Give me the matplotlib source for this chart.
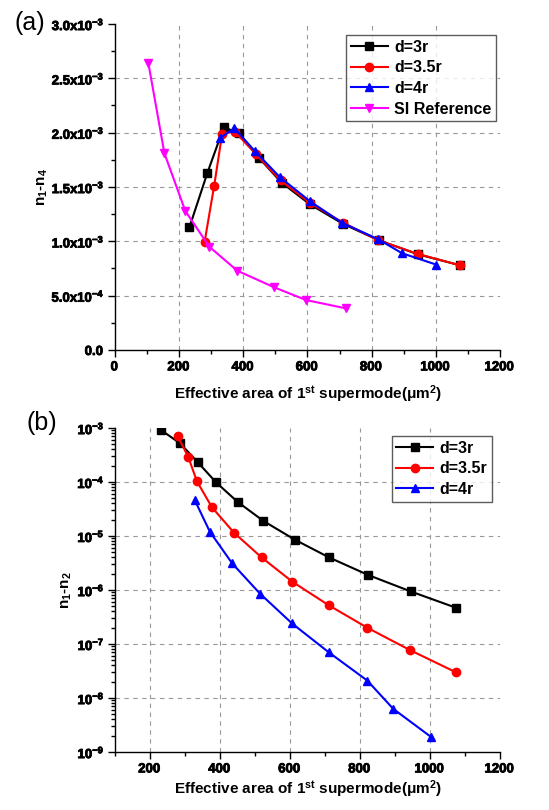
import matplotlib
matplotlib.use("Agg")
import matplotlib.pyplot as plt
import matplotlib.patheffects as pe
from matplotlib.ticker import MultipleLocator, FuncFormatter, LogLocator, NullFormatter
import numpy as np

plt.rcParams['font.family'] = ['Liberation Sans', 'DejaVu Sans']
plt.rcParams['font.weight'] = 'bold'
plt.rcParams['mathtext.fontset'] = 'custom'
plt.rcParams['mathtext.rm'] = 'Liberation Sans:bold'
plt.rcParams['mathtext.bf'] = 'Liberation Sans:bold'
plt.rcParams['mathtext.it'] = 'Liberation Sans:bold'
plt.rcParams['mathtext.sf'] = 'Liberation Sans:bold'
plt.rcParams['mathtext.default'] = 'rm'

# ---- panel (a) data: n1-n4 vs effective area ----
a_x_3r = [232, 288, 339, 386, 448, 519, 608, 711, 822, 945, 1075]
a_y_3r = [1.13e-3, 1.63e-3, 2.05e-3, 1.995e-3, 1.77e-3, 1.54e-3, 1.34e-3, 1.16e-3, 1.01e-3, 0.88e-3, 0.78e-3]
a_x_35r = [279, 309, 334, 373, 440, 516, 609, 712, 820, 943, 1074]
a_y_35r = [0.99e-3, 1.51e-3, 1.99e-3, 2.01e-3, 1.80e-3, 1.56e-3, 1.35e-3, 1.17e-3, 1.01e-3, 0.885e-3, 0.78e-3]
a_x_4r = [327, 372, 436, 514, 607, 708, 820, 895, 1002]
a_y_4r = [1.95e-3, 2.04e-3, 1.83e-3, 1.59e-3, 1.37e-3, 1.17e-3, 1.02e-3, 0.89e-3, 0.785e-3]
a_x_si = [104, 154, 219, 294, 381, 496, 595, 720]
a_y_si = [2.64e-3, 1.81e-3, 1.28e-3, 0.95e-3, 0.73e-3, 0.577e-3, 0.46e-3, 0.383e-3]

# ---- panel (b) data: n1-n2 vs effective area ----
b_x_3r = [231, 286, 337, 389, 450, 524, 613, 712, 823, 945, 1074]
b_y_3r = [9.2e-4, 5.2e-4, 2.3e-4, 9.8e-5, 4.3e-5, 1.9e-5, 8.6e-6, 4.0e-6, 1.9e-6, 9.4e-7, 4.7e-7]
b_x_35r = [279, 309, 334, 377, 440, 519, 607, 711, 821, 943, 1074]
b_y_35r = [7.0e-4, 2.95e-4, 1.03e-4, 3.4e-5, 1.15e-5, 4.0e-6, 1.42e-6, 5.2e-7, 2.0e-7, 7.7e-8, 3.0e-8]
b_x_4r = [328, 371, 435, 514, 606, 711, 821, 895, 1003]
b_y_4r = [4.6e-5, 1.2e-5, 3.1e-6, 8.6e-7, 2.4e-7, 7.0e-8, 2.1e-8, 6.3e-9, 1.9e-9]

labels = ['d=3r', 'd=3.5r', 'd=4r', 'SI Reference']
colors = ['black', 'red', 'blue', 'magenta']
markers = ['s', 'o', '^', 'v']

fig = plt.figure(figsize=(5.49, 8.10), dpi=100)
axA = fig.add_axes([0.2095, 0.5679, 0.7012, 0.4025])
axB = fig.add_axes([0.2095, 0.0716, 0.7012, 0.4000])

TICK_FS = 9.5

def in_range(v, lim):
    lo, hi = min(lim), max(lim)
    return lo - 1e-9 * abs(hi - lo) <= v <= hi + 1e-9 * abs(hi - lo)

def style_axes(ax):
    for s in ['top', 'right']:
        ax.spines[s].set_visible(False)
    for s in ['left', 'bottom']:
        ax.spines[s].set_linewidth(1.0)
    ax.tick_params(which='major', direction='out', length=5, width=1, labelsize=TICK_FS, pad=2.5)
    ax.tick_params(which='minor', direction='out', length=3, width=1)
    ax.xaxis.set_major_formatter(FuncFormatter(
        lambda v, p: (r'$\mathregular{%d}$' % int(round(v))) if in_range(v, ax.get_xlim()) else ''))

lw = 1.5
ms = 6

# panel a
for xs, ys, c, m, l in zip([a_x_3r, a_x_35r, a_x_4r, a_x_si],
                           [a_y_3r, a_y_35r, a_y_4r, a_y_si], colors, markers, labels):
    axA.plot(xs, ys, color=c, marker=m, markersize=ms, linewidth=lw, label=l)
axA.set_xlim(0, 1200)
axA.set_ylim(0, 3.0e-3)
axA.xaxis.set_major_locator(MultipleLocator(200))
axA.xaxis.set_minor_locator(MultipleLocator(100))
axA.yaxis.set_major_locator(MultipleLocator(0.5e-3))
axA.yaxis.set_minor_locator(MultipleLocator(0.25e-3))

def fmt_a(v, pos):
    if not in_range(v, axA.get_ylim()):
        return ''
    if abs(v) < 1e-12:
        return r'$\mathregular{0.0}$'
    m = v / 1e-3
    if m >= 1 - 1e-9:
        return r'$\mathregular{%.1fx10^{-3}}$' % m
    return r'$\mathregular{%.1fx10^{-4}}$' % (v / 1e-4)
axA.yaxis.set_major_formatter(FuncFormatter(fmt_a))
axA.grid(True, which='major', linestyle=(0, (4, 4)), color='#999999', linewidth=0.8)
style_axes(axA)
axA.set_xlabel('Effective area of 1$^{st}$ supermode(μm$^{2}$)', fontsize=11, fontweight='bold', labelpad=7)
axA.set_ylabel('n$_{1}$-n$_{4}$', fontsize=11, fontweight='bold', labelpad=1)

leg_kw = dict(loc='upper right', bbox_transform=fig.transFigure, fontsize=11.5, frameon=True,
              fancybox=False, handlelength=2.3, borderpad=0.3, labelspacing=0.35,
              handletextpad=0.4, borderaxespad=0)
legA = axA.legend(bbox_to_anchor=(496 / 549, 1 - 35 / 810), **leg_kw)

# panel b
for xs, ys, c, m, l in zip([b_x_3r, b_x_35r, b_x_4r],
                           [b_y_3r, b_y_35r, b_y_4r], colors[:3], markers[:3], labels[:3]):
    axB.plot(xs, ys, color=c, marker=m, markersize=ms, linewidth=lw, label=l)
axB.set_yscale('log')
axB.set_xlim(100, 1200)
axB.set_ylim(1e-9, 1e-3)
axB.xaxis.set_major_locator(MultipleLocator(200))
axB.xaxis.set_minor_locator(MultipleLocator(100))
axB.yaxis.set_major_locator(LogLocator(base=10, numticks=20))
axB.yaxis.set_minor_locator(LogLocator(base=10, subs=np.arange(2, 10), numticks=20))
axB.yaxis.set_minor_formatter(NullFormatter())

def fmt_b(v, pos):
    lo, hi = axB.get_ylim()
    if v < lo * (1 - 1e-6) or v > hi * (1 + 1e-6):
        return ''
    return r'$\mathregular{10^{%d}}$' % int(round(np.log10(v)))
axB.yaxis.set_major_formatter(FuncFormatter(fmt_b))
axB.grid(True, which='major', linestyle=(0, (4, 4)), color='#999999', linewidth=0.8)
style_axes(axB)
axB.set_xlabel('Effective area of 1$^{st}$ supermode(μm$^{2}$)', fontsize=11, fontweight='bold', labelpad=2)
axB.set_ylabel('n$_{1}$-n$_{2}$', fontsize=11, fontweight='bold', labelpad=2)
legB = axB.legend(bbox_to_anchor=(492 / 549, 1 - 436 / 810), **leg_kw)

for leg in (legA, legB):
    leg.get_frame().set_edgecolor('#333333')
    leg.get_frame().set_linewidth(1.0)
    for t in leg.get_texts():
        t.set_fontweight('bold')

# hide grid lines that fall on the axes limits; thicken tick label strokes slightly
fig.canvas.draw()
heavy = [pe.withStroke(linewidth=0.6, foreground='black')]
for ax in (axA, axB):
    xl = ax.get_xlim()
    for tk in ax.xaxis.get_major_ticks():
        if np.isclose(tk.get_loc(), xl[0]) or np.isclose(tk.get_loc(), xl[1]):
            tk.gridline.set_visible(False)
    yl = ax.get_ylim()
    for tk in ax.yaxis.get_major_ticks():
        loc = tk.get_loc()
        if np.isclose(loc, yl[0], rtol=1e-6, atol=0) or np.isclose(loc, yl[1], rtol=1e-6, atol=0) or loc == 0:
            tk.gridline.set_visible(False)
    for tk in ax.xaxis.get_major_ticks() + ax.yaxis.get_major_ticks():
        tk.label1.set_path_effects(heavy)

fig.text(14 / 549, 1 - 11 / 810, '(a)', fontsize=18, fontweight='normal', va='top', ha='left')
fig.text(26 / 549, 1 - 411 / 810, '(b)', fontsize=18, fontweight='normal', va='top', ha='left')

fig.savefig('out.png', dpi=100)
